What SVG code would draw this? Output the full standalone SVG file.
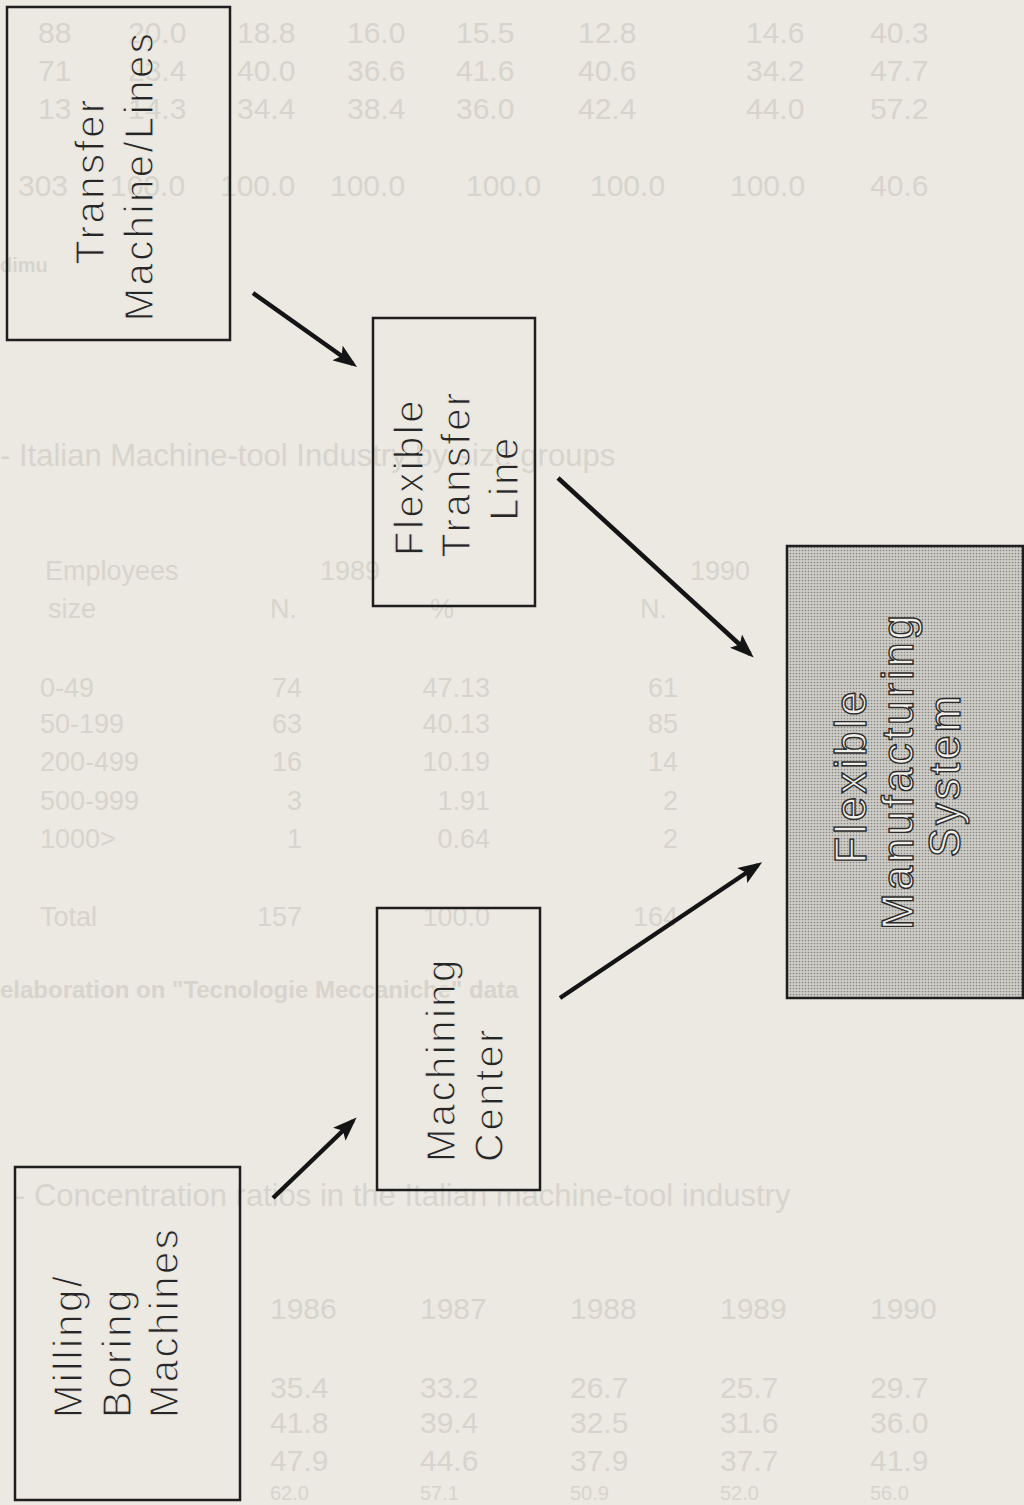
<svg xmlns="http://www.w3.org/2000/svg" width="1024" height="1505" viewBox="0 0 1024 1505">
  <style>
    .bg { fill: #ece9e2; }
    .ghost { font-family: "Liberation Sans", Arial, sans-serif; font-size: 30px; fill: #d7d4cd; }
    .ghost-m { font-size: 27px; }
    .ghost-r { text-anchor: end; }
    .box { fill: none; stroke: #1e1e1e; stroke-width: 2.5; }
    .lbl { font-family: "Liberation Sans", Arial, sans-serif; font-size: 40px; letter-spacing: 2.5px; fill: #262626; stroke: #ece9e2; stroke-width: 1.1px; }
    .mid { text-anchor: middle; }
    .start { text-anchor: start; }
    .fms-lbl { font-family: "Liberation Sans", Arial, sans-serif; font-size: 44px; letter-spacing: 3px; fill: #f0efea; stroke: #2a2a2a; stroke-width: 1.4px; text-anchor: middle; }
    .arrow { stroke: #141414; stroke-width: 4.5; fill: none; marker-end: url(#head); }
  </style>
  <defs>
    <marker id="head" markerUnits="userSpaceOnUse" markerWidth="24" markerHeight="18" refX="19" refY="9" orient="auto">
      <path d="M0,0 L24,9 L0,18 L5,9 z" fill="#141414"/>
    </marker>
    <pattern id="halftone" width="3" height="3" patternUnits="userSpaceOnUse">
      <rect width="3" height="3" fill="#d0cec8"/>
      <circle cx="1.5" cy="1.5" r="0.85" fill="#86847f"/>
    </pattern>
  </defs>

  <rect class="bg" x="0" y="0" width="1024" height="1505"/>

  <!-- faint bleed-through from the reverse of the page -->
  <g id="bleed-through">
    <g class="ghost">
      <text x="38" y="43">88</text><text x="128" y="43">20.0</text><text x="237" y="43">18.8</text><text x="347" y="43">16.0</text><text x="456" y="43">15.5</text><text x="578" y="43">12.8</text><text x="746" y="43">14.6</text><text x="870" y="43">40.3</text>
      <text x="38" y="81">71</text><text x="128" y="81">23.4</text><text x="237" y="81">40.0</text><text x="347" y="81">36.6</text><text x="456" y="81">41.6</text><text x="578" y="81">40.6</text><text x="746" y="81">34.2</text><text x="870" y="81">47.7</text>
      <text x="38" y="119">13</text><text x="128" y="119">14.3</text><text x="237" y="119">34.4</text><text x="347" y="119">38.4</text><text x="456" y="119">36.0</text><text x="578" y="119">42.4</text><text x="746" y="119">44.0</text><text x="870" y="119">57.2</text>
      <text x="18" y="196">303</text><text x="110" y="196">100.0</text><text x="220" y="196">100.0</text><text x="330" y="196">100.0</text><text x="466" y="196">100.0</text><text x="590" y="196">100.0</text><text x="730" y="196">100.0</text><text x="870" y="196">40.6</text>
      <text x="0" y="272" font-size="20" font-weight="bold">dimu</text>
      <text x="0" y="466" font-size="31">- Italian Machine-tool Industry by size groups</text>
      <g class="ghost-m">
        <text x="45" y="580">Employees</text><text x="320" y="580">1989</text><text x="690" y="580">1990</text>
        <text x="48" y="618">size</text><text x="270" y="618">N.</text><text x="430" y="618">%</text><text x="640" y="618">N.</text>
        <text x="40" y="697">0-49</text><text class="ghost-r" x="302" y="697">74</text><text class="ghost-r" x="490" y="697">47.13</text><text class="ghost-r" x="678" y="697">61</text>
        <text x="40" y="733">50-199</text><text class="ghost-r" x="302" y="733">63</text><text class="ghost-r" x="490" y="733">40.13</text><text class="ghost-r" x="678" y="733">85</text>
        <text x="40" y="771">200-499</text><text class="ghost-r" x="302" y="771">16</text><text class="ghost-r" x="490" y="771">10.19</text><text class="ghost-r" x="678" y="771">14</text>
        <text x="40" y="810">500-999</text><text class="ghost-r" x="302" y="810">3</text><text class="ghost-r" x="490" y="810">1.91</text><text class="ghost-r" x="678" y="810">2</text>
        <text x="40" y="848">1000&gt;</text><text class="ghost-r" x="302" y="848">1</text><text class="ghost-r" x="490" y="848">0.64</text><text class="ghost-r" x="678" y="848">2</text>
        <text x="40" y="926">Total</text><text class="ghost-r" x="302" y="926">157</text><text class="ghost-r" x="490" y="926">100.0</text><text class="ghost-r" x="678" y="926">164</text>
      </g>
      <text x="0" y="998" font-size="24" font-weight="bold">elaboration on "Tecnologie Meccaniche" data</text>
      <text x="15" y="1206" font-size="31">- Concentration ratios in the Italian machine-tool industry</text>
      <text x="270" y="1319">1986</text><text x="420" y="1319">1987</text><text x="570" y="1319">1988</text><text x="720" y="1319">1989</text><text x="870" y="1319">1990</text>
      <text x="270" y="1398">35.4</text><text x="420" y="1398">33.2</text><text x="570" y="1398">26.7</text><text x="720" y="1398">25.7</text><text x="870" y="1398">29.7</text>
      <text x="270" y="1433">41.8</text><text x="420" y="1433">39.4</text><text x="570" y="1433">32.5</text><text x="720" y="1433">31.6</text><text x="870" y="1433">36.0</text>
      <text x="270" y="1471">47.9</text><text x="420" y="1471">44.6</text><text x="570" y="1471">37.9</text><text x="720" y="1471">37.7</text><text x="870" y="1471">41.9</text>
      <g font-size="20">
        <text x="270" y="1500">62.0</text><text x="420" y="1500">57.1</text><text x="570" y="1500">50.9</text><text x="720" y="1500">52.0</text><text x="870" y="1500">56.0</text>
      </g>
    </g>
  </g>

  <g id="node-transfer-machine">
    <rect class="box" x="7" y="7" width="223" height="333"/>
    <text class="lbl mid" transform="translate(104,181) rotate(-90)">Transfer</text>
    <text class="lbl mid" transform="translate(153,176) rotate(-90)">Machine/Lines</text>
  </g>

  <g id="node-flexible-transfer-line">
    <rect class="box" x="373" y="318" width="162" height="288"/>
    <text class="lbl mid" transform="translate(423,477) rotate(-90)">Flexible</text>
    <text class="lbl mid" transform="translate(470,474) rotate(-90)">Transfer</text>
    <text class="lbl mid" transform="translate(518,478) rotate(-90)">Line</text>
  </g>

  <g id="node-fms">
    <rect x="787" y="546" width="236" height="452" fill="url(#halftone)" stroke="#1e1e1e" stroke-width="2.5"/>
    <text class="fms-lbl" transform="translate(866,776) rotate(-90)">Flexible</text>
    <text class="fms-lbl" transform="translate(913,771) rotate(-90)">Manufacturing</text>
    <text class="fms-lbl" transform="translate(960,775) rotate(-90)">System</text>
  </g>

  <g id="node-machining-center">
    <rect class="box" x="377" y="908" width="163" height="282"/>
    <text class="lbl start" transform="translate(455,1162) rotate(-90)">Machining</text>
    <text class="lbl start" transform="translate(503,1162) rotate(-90)">Center</text>
  </g>

  <g id="node-milling-boring">
    <rect class="box" x="15" y="1167" width="225" height="333"/>
    <text class="lbl start" transform="translate(82,1418) rotate(-90)">Milling/</text>
    <text class="lbl start" transform="translate(131,1418) rotate(-90)">Boring</text>
    <text class="lbl start" transform="translate(178,1418) rotate(-90)">Machines</text>
  </g>

  <g id="connectors">
    <line class="arrow" x1="253" y1="293" x2="353" y2="364"/>
    <line class="arrow" x1="558" y1="478" x2="750" y2="654"/>
    <line class="arrow" x1="560" y1="998" x2="758" y2="865"/>
    <line class="arrow" x1="273" y1="1198" x2="353" y2="1121"/>
  </g>
</svg>
